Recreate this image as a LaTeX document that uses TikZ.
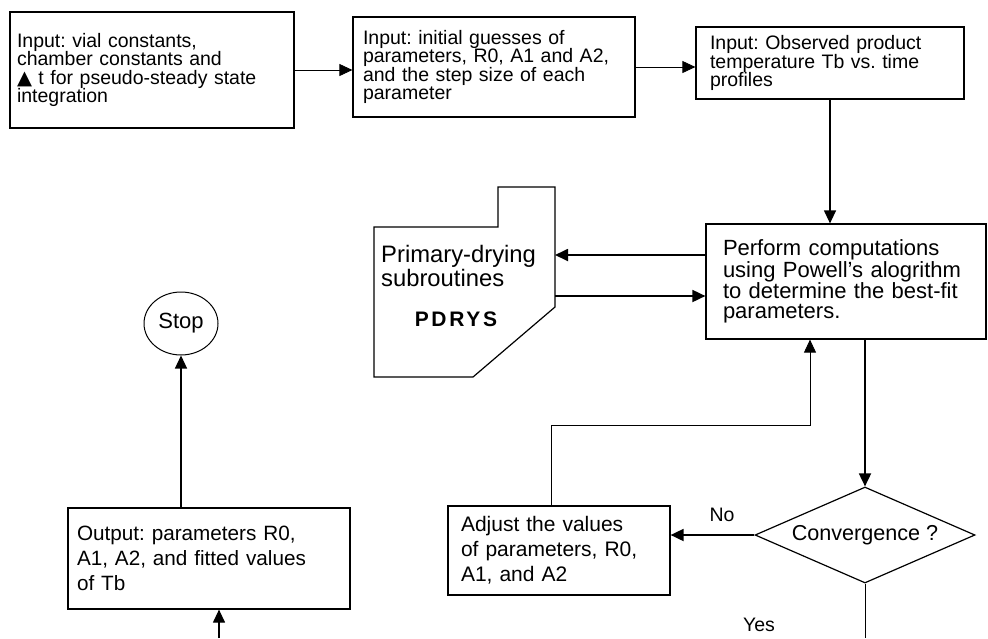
\documentclass[tikz,border=0pt]{standalone}
\usepackage{fontspec}
\setmainfont{Liberation Sans}
\newfontfamily\symfont{DejaVu Sans}
\usetikzlibrary{positioning,arrows.meta,shapes.geometric}
\frenchspacing

\begin{document}
\begin{tikzpicture}[x=1pt,y=-1pt,
			font=\fontsize{19.5}{18.5}\selectfont,
			box/.style={draw, line width=1.2pt, align=left, inner ysep=0pt},
			arr/.style={-{Triangle[length=13pt,width=12pt]}, line width=1.8pt},
			arrmid/.style={-{Triangle[length=13pt,width=12pt]}, line width=1.2pt},
			arrthin/.style={-{Triangle[length=13pt,width=12pt]}, line width=0.8pt}]
			
			\useasboundingbox (0,0) rectangle (988,638);
			
			% input row
			\node[box, text width=270pt, inner xsep=7pt, minimum height=116pt] (vial) at (152,70) {Input: vial constants,\\chamber constants and\\{\symfont ▲} t for pseudo-steady state\\integration};
			\node[box, text width=262pt, inner xsep=10pt, minimum height=100pt] (guess) at (494,67) {Input: initial guesses of\\parameters, R0, A1 and A2,\\and the step size of each\\parameter};
			\node[box, text width=240pt, inner xsep=14pt, minimum height=72pt] (observed) at (830,63) {Input: Observed product\\temperature Tb vs. time\\profiles};
			
			% fitting loop
			\node[box, text width=246pt, inner xsep=17pt, minimum height=115pt, font=\fontsize{22}{20}\selectfont] (perform) at (846,281.5) {Perform computations\\using Powell’s alogrithm\\to determine the best-fit\\parameters.};
			\node[draw, diamond, aspect=2.29, inner sep=0pt, minimum width=220pt, minimum height=96pt, line width=1.2pt, font=\fontsize{21.6}{22}\selectfont] (conv) at (865,535) {Convergence ?};
			\node[box, text width=196pt, inner xsep=13pt, minimum height=89pt, font=\fontsize{21}{25}\selectfont] (adjust) at (559,550.5) {Adjust the values\\of parameters, R0,\\A1, and A2};
			\node[box, text width=264pt, inner xsep=9pt, minimum height=101pt, font=\fontsize{20.7}{25}\selectfont] (output) at (209,558.5) {Output: parameters R0,\\A1, A2, and fitted values\\of Tb};
			\node[draw, ellipse, inner sep=0pt, minimum width=74pt, minimum height=63pt, line width=1pt, font=\fontsize{22}{22}\selectfont] (stop) at (181,323.5) {Stop};
			
			% subroutine block
			\draw[line width=1.2pt] (374,227) -- (498,227) -- (498,187) -- (555,187) -- (555,307) -- (473,377) -- (374,377) -- cycle;
			\node[anchor=west, align=left, inner sep=0pt, font=\fontsize{23.8}{18}\selectfont] (pdname) at (381,266) {Primary-drying\\subroutines};
			\node[font=\bfseries\fontsize{21}{21}\selectfont] (pdrys) at (456,319) {\addfontfeature{LetterSpace=13}PDRYS};
			\coordinate (pdin) at (555,255);
			\coordinate (pdout) at (555,296);
			
			% connectors
			\draw[arrthin] (vial.east) -- (vial.east -| guess.west);
			\draw[arrthin] (guess.east) -- (guess.east -| observed.west);
			\draw[arrmid] (observed.south) -- (observed.south |- perform.north);
			\draw[arr] (perform.west |- pdin) -- (pdin);
			\draw[arr] (pdout) -- (pdout -| perform.west);
			\draw[arr] (conv.north |- perform.south) -- (conv.north);
			\draw[arr] (conv.west) -- (conv.west -| adjust.east);
			\node (no) at (722,515) {No};
			\coordinate (ret) at (810,425);
			\draw[arrthin] ([xshift=-8pt]adjust.north) |- (ret) -- (ret |- perform.south);
			\coordinate (yesend) at (865,638);
			\draw[line width=1pt] (conv.south) -- (yesend);
			\node (yes) at (759,625) {Yes};
			\draw[arrmid] (stop.south |- output.north) -- (stop.south);
			\coordinate (outin) at (219,638);
			\draw[arrmid] (outin) -- (outin |- output.south);
		\end{tikzpicture}
\end{document}
